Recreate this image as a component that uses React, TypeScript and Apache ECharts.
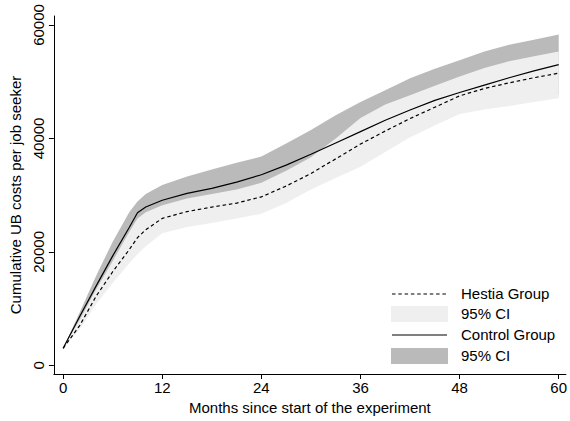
import React, { useEffect, useRef } from "react";
import * as echarts from "echarts";

const months = [0, 2, 4, 6, 8, 9, 10, 12, 15, 18, 21, 24, 27, 30, 33, 36, 39, 42, 45, 48, 51, 54, 57, 60];

const controlGroup = [3000, 8600, 14000, 19300, 24300, 26900, 27900, 29100, 30300, 31200, 32300, 33600, 35300, 37200, 39200, 41200, 43200, 45000, 46700, 48100, 49400, 50700, 51900, 53000];
const controlUpper = [3000, 9300, 15800, 21800, 27000, 28900, 30200, 31800, 33300, 34500, 35700, 36800, 39100, 41500, 44100, 46400, 48500, 50600, 52300, 53800, 55300, 56500, 57400, 58300];
const controlLower = [3000, 7900, 12300, 16900, 21700, 24600, 25500, 26400, 27300, 27900, 28900, 30300, 31500, 33000, 34500, 36300, 38000, 40300, 42400, 44400, 45300, 46200, 47000, 47700];

const hestiaGroup = [3000, 7000, 12200, 16500, 20400, 22500, 23900, 25900, 27100, 27900, 28600, 29700, 31600, 33800, 36400, 39000, 41300, 43500, 45500, 47500, 48800, 49800, 50700, 51500];
const hestiaUpper = [3000, 8000, 13400, 18400, 23500, 25900, 27000, 28200, 29400, 30200, 31000, 32200, 34300, 36700, 40000, 43600, 46000, 47600, 49300, 50900, 52400, 53600, 54500, 55300];
const hestiaLower = [3000, 6300, 10800, 14500, 18000, 19600, 21000, 23300, 24400, 25100, 25900, 26700, 28600, 31000, 33000, 35000, 37600, 40200, 42300, 44300, 45100, 45700, 46400, 47100];

const xTicks = [0, 12, 24, 36, 48, 60];
const yTicks = [0, 20000, 40000, 60000];

const legendLabels = ["Hestia Group", "95% CI", "Control Group", "95% CI"];

const FONT = "'Liberation Sans', Arial, Helvetica, sans-serif";
const DARK = "#bababa";
const LIGHT = "#efefef";

function bandSeries(upper: number[], lower: number[], color: string, z: number) {
  return {
    type: "custom",
    z,
    silent: true,
    data: months.map((m, i) => [m, lower[i], upper[i]]),
    encode: { x: 0, y: [1, 2] },
    renderItem: (params: any, api: any) => {
      if (params.dataIndex !== 0) return null;
      const top = months.map((m, i) => api.coord([m, upper[i]]));
      const bottom = months.map((m, i) => api.coord([m, lower[i]])).reverse();
      return {
        type: "polygon",
        shape: { points: top.concat(bottom) },
        style: { fill: color, stroke: "none" },
      };
    },
  };
}

export default function App() {
  const ref = useRef<HTMLDivElement>(null);
  useEffect(() => {
    const chart = echarts.init(ref.current!, null, { renderer: "svg" });
    const pairs = (arr: number[]) => months.map((m, i) => [m, arr[i]]);
    const axisText = { fontSize: 15, color: "#000", fontFamily: FONT };
    const legendY = [293, 313.5, 334, 355.5];

    chart.setOption({
      animation: false,
      backgroundColor: "#fff",
      grid: { left: 50, right: 0, top: 16, bottom: 47, containLabel: false },
      xAxis: {
        type: "value",
        min: -1.12,
        max: 60.87,
        axisLine: { show: true, onZero: false, lineStyle: { color: "#000", width: 1 } },
        axisTick: { show: true, length: 5, customValues: xTicks, lineStyle: { color: "#000", width: 1 } },
        axisLabel: { customValues: xTicks, margin: 6, ...axisText, formatter: (v: number) => String(v) },
        splitLine: { show: false },
        name: "Months since start of the experiment",
        nameLocation: "middle",
        nameGap: 21,
        nameTextStyle: axisText,
      },
      yAxis: {
        type: "value",
        min: -1530,
        max: 61580,
        axisLine: { show: true, onZero: false, lineStyle: { color: "#000", width: 1 } },
        axisTick: { show: true, length: 5, customValues: yTicks, lineStyle: { color: "#000", width: 1 } },
        axisLabel: { customValues: yTicks, rotate: 90, margin: 8, ...axisText, formatter: (v: number) => String(v) },
        splitLine: { show: false },
        name: "Cumulative UB costs per job seeker",
        nameLocation: "middle",
        nameGap: 24,
        nameRotate: 90,
        nameTextStyle: axisText,
      },
      series: [
        bandSeries(controlUpper, controlLower, DARK, 1),
        bandSeries(hestiaUpper, hestiaLower, LIGHT, 2),
        {
          name: "Hestia Group", type: "line", z: 3, data: pairs(hestiaGroup), symbol: "none",
          lineStyle: { color: "#000", width: 1.2, type: [3.5, 2.8] },
        },
        {
          name: "Control Group", type: "line", z: 4, data: pairs(controlGroup), symbol: "none",
          lineStyle: { color: "#000", width: 1.2 },
        },
      ],
      graphic: {
        elements: [
          { id: "lg0", type: "line", z: 100, shape: { x1: 392, y1: 294, x2: 446, y2: 294 }, style: { stroke: "#000", lineWidth: 1.2, lineDash: [3.5, 2.8] } },
          { id: "lg1", type: "rect", z: 100, shape: { x: 391, y: 306, width: 57, height: 16 }, style: { fill: LIGHT } },
          { id: "lg2", type: "line", z: 100, shape: { x1: 392, y1: 335, x2: 447, y2: 335 }, style: { stroke: "#000", lineWidth: 1.2 } },
          { id: "lg3", type: "rect", z: 100, shape: { x: 391, y: 348, width: 57, height: 16 }, style: { fill: DARK } },
          ...legendLabels.map((t, i) => ({
            id: "lt" + i,
            type: "text",
            z: 100,
            x: 461,
            y: legendY[i],
            style: { text: t, fontSize: 15, fontFamily: FONT, fill: "#000", verticalAlign: "middle", align: "left" },
          })),
        ],
      },
    });
    return () => chart.dispose();
  }, []);
  return (
    <div
      ref={ref}
      style={{ position: "fixed", left: 0, top: 0, width: 570, height: 421, background: "#fff" }}
    />
  );
}
